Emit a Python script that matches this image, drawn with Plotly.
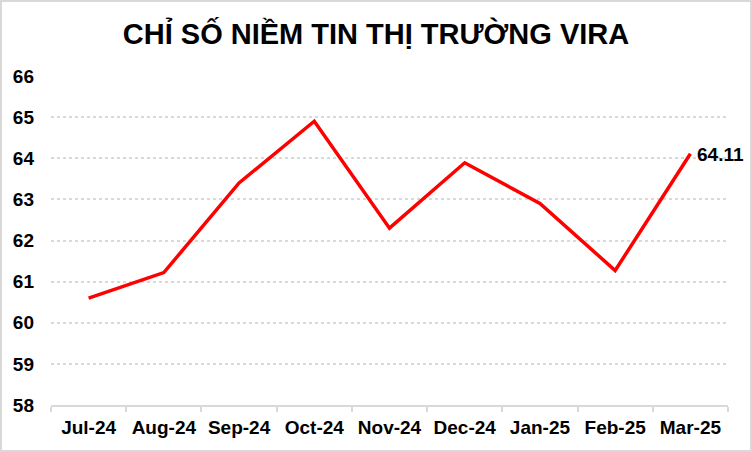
import plotly.graph_objects as go

months = ["Jul-24", "Aug-24", "Sep-24", "Oct-24", "Nov-24", "Dec-24", "Jan-25", "Feb-25", "Mar-25"]
vira_index = [60.60, 61.22, 63.40, 64.90, 62.30, 63.89, 62.90, 61.27, 64.11]

title_text = "CHỈ SỐ NIỀM TIN THỊ TRƯỜNG VIRA"
font_family = "Liberation Sans, Arial, sans-serif"

W, H = 752, 452
ml, mr, mt, mb = 51, 24, 76, 47

fig = go.Figure(go.Scatter(
    x=months, y=vira_index,
    mode="lines",
    line=dict(color="#FF0000", width=3.5),
    hoverinfo="x+y",
))

# label on the last point
fig.add_annotation(x=months[-1], y=vira_index[-1], text=f"{vira_index[-1]:.2f}",
                   showarrow=False, xanchor="left", yanchor="middle", xshift=5, yshift=-1,
                   font=dict(family=font_family, size=19, color="black", weight="bold"))

pw = W - ml - mr
ph = H - mt - mb
fig.add_shape(type="rect", xref="paper", yref="paper",
              x0=(-ml + 1) / pw, x1=(pw + mr - 1) / pw,
              y0=(-mb + 1) / ph, y1=(ph + mt - 1) / ph,
              line=dict(color="#d9d9d9", width=2), layer="below")

fig.update_layout(
    width=W, height=H,
    margin=dict(l=ml, r=mr, t=mt, b=mb, autoexpand=False),
    paper_bgcolor="white", plot_bgcolor="white",
    showlegend=False,
    title=dict(text=title_text, x=0.5, xref="container", xanchor="center",
               y=1 - 34 / H, yanchor="middle", automargin=False,
               font=dict(family=font_family, size=29, color="black", weight="bold")),
    font=dict(family=font_family, color="black"),
)

fig.update_xaxes(
    automargin=False, range=[-0.5, len(months) - 0.5],
    showgrid=False, showline=True, linecolor="#d9d9d9", linewidth=2,
    ticks="outside", tickson="boundaries", ticklen=5, tickcolor="#d9d9d9", tickwidth=2,
    tickfont=dict(family=font_family, size=19, color="black", weight="bold"),
    ticklabelstandoff=4,
)
fig.update_yaxes(
    automargin=False,
    range=[58, 66], dtick=1, showline=False, zeroline=False,
    showgrid=True, gridcolor="#d9d9d9", griddash="dot", gridwidth=1.5,
    tickfont=dict(family=font_family, size=19, color="black", weight="bold"),
    ticklabelstandoff=16,
)

# page body has a default 8px margin; drop it so the figure fills the window
fig.write_html("out.html", config={"displayModeBar": False},
               post_script="document.body.style.margin='0px';")
